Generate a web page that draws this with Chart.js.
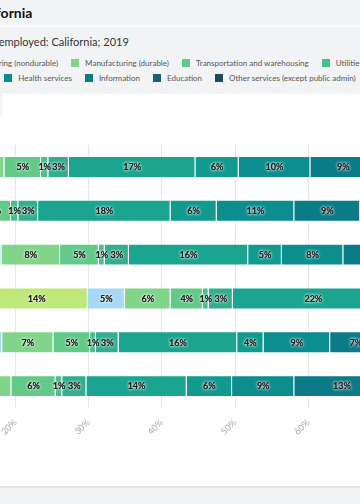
<!DOCTYPE html>
<html lang="en">
<head>
<meta charset="utf-8">
<title>Industry of employment: California</title>
<script src="https://cdn.jsdelivr.net/npm/chart.js@4.4.1/dist/chart.umd.min.js"></script>
<style>
  html, body { margin: 0; padding: 0; }
  body { width: 360px; height: 504px; overflow: hidden; background: #f2f3f5; font-family: Lato, "Noto Sans", sans-serif; position: relative; }
  #pagina { position: absolute; left: -400px; top: 0; width: 1160px; height: 504px; }
  .titulo { position: absolute; top: 0; left: 0; right: 0; height: 25px; line-height: 25px; border-bottom: 2px solid #fbfbfc; padding-left: 84px; font-size: 14px; font-weight: 700; color: #111; }
  .subtitulo { position: absolute; top: 34px; left: 0; right: 0; line-height: 16px; padding-left: 76px; font-size: 11px; color: #333; }
  #leyenda { position: absolute; top: 59px; left: 50%; transform: translateX(-50%); width: 1000px; display: flex; flex-wrap: wrap; justify-content: center; column-gap: 13px; row-gap: 7px; }
  #leyenda .item { display: inline-flex; align-items: center; height: 8px; font-size: 8px; line-height: 8px; color: #555; white-space: nowrap; }
  #leyenda .item i { display: inline-block; width: 8px; height: 8px; margin-right: 6px; }
  .tarjeta { position: absolute; top: 92px; left: 0; right: 0; height: 393px; background: #fff; border-top: 1px solid #e9ebee; border-bottom: 2px solid #e2e4e8; }
  .pestana { position: absolute; top: 0; left: 283px; width: 120px; height: 24px; background: #f4f5f7; }
  .marco { position: absolute; left: 69px; top: 0; width: 960px; height: 393px; }
</style>
</head>
<body>
<div id="pagina">
  <div class="titulo">Industry of employment by race and ethnicity: California</div>
  <div class="subtitulo">Industry share of the civilian population 16 years and over who are employed: California; 2019</div>
  <div id="leyenda"></div>
  <div class="tarjeta">
    <div class="pestana"></div>
    <div class="marco"><canvas id="barras"></canvas></div>
  </div>
</div>
<script>
const grupos = ['All workers', 'White', 'Black', 'Hispanic or Latino', 'Asian', 'Two or more races']

const industrias = [
    'Agriculture, forestry, fishing',
    'Mining',
    'Construction',
    'Manufacturing (nondurable)',
    'Manufacturing (durable)',
    'Transportation and warehousing',
    'Utilities',
    'Wholesale trade',
    'Retail trade',
    'Finance, insurance, and real estate',
    'Health services',
    'Information',
    'Education',
    'Other services (except public admin)'
]

const colores = [
    '#f3df74', '#dcec7c', '#bfe87a', '#a6d9f6', '#80d58a', '#62c989', '#4bbe8b',
    '#33ae8d', '#1ba590', '#129a8f', '#0c8d8e', '#0b7c87', '#175f72', '#22495e'
]

// percent of employed, one array per industry, in the order of grupos
const agricultura = [2.1, 1.6, 2.5, 15.5, 1.6, 1.9]
const mineria = [0.3, 0.2, 0.3, 0.4, 0.3, 0.2]
const construccion = [6.2, 4.8, 7.8, 14.0, 6.8, 6.3]
const noDuraderos = [4.0, 3.8, 7.5, 5.05, 9.5, 4.5]
const duraderos = [5.9, 4.6, 8.0, 6.25, 7.0, 6.55]
const transporte = [5.0, 4.4, 5.3, 4.4, 5.0, 6.05]
const serviciosPublicos = [1.0, 1.0, 0.8, 0.8, 0.8, 0.9]
const mayoreo = [2.8, 2.7, 3.3, 3.3, 3.1, 3.3]
const menudeo = [17.3, 18.1, 16.3, 22.0, 16.2, 13.7]
const finanzas = [5.9, 6.3, 4.6, 3.5, 3.6, 6.2]
const salud = [9.8, 10.6, 8.4, 7.8, 9.1, 8.5]
const informacion = [9.0, 9.0, 8.5, 2.0, 7.0, 13.0]
const educacion = [19.5, 21.0, 17.0, 9.0, 19.2, 18.4]
const otros = [11.2, 11.9, 9.7, 6.0, 10.8, 10.5]

const valores = [agricultura, mineria, construccion, noDuraderos, duraderos, transporte,
    serviciosPublicos, mayoreo, menudeo, finanzas, salud, informacion, educacion, otros]

const ticksX = [0, 10, 20, 30, 40, 50, 60, 70, 80, 90, 100]

// legend drawn as html from the datasets
const leyendaHTML = {
    id: 'leyendaHTML',
    afterUpdate(chart) {
        const cont = document.getElementById('leyenda')
        cont.innerHTML = ''
        chart.data.datasets.forEach(ds => {
            const item = document.createElement('span')
            item.className = 'item'
            const caja = document.createElement('i')
            caja.style.background = ds.backgroundColor
            item.append(caja, document.createTextNode(ds.label))
            cont.appendChild(item)
        })
    }
}

// percent labels inside each segment
const etiquetas = {
    id: 'etiquetas',
    afterDatasetsDraw(chart) {
        const ctx = chart.ctx
        ctx.save()
        ctx.font = 'bold 9px Lato'
        ctx.textAlign = 'center'
        ctx.textBaseline = 'middle'
        chart.data.datasets.forEach((ds, i) => {
            chart.getDatasetMeta(i).data.forEach((barra, j) => {
                const v = ds.data[j]
                if (v < 0.5) return
                const {x, y} = barra.getCenterPoint()
                const texto = Math.round(v) + '%'
                ctx.shadowColor = 'rgba(255,255,255,0.95)'
                ctx.shadowBlur = 3
                ctx.fillStyle = '#1e1e1e'
                ctx.fillText(texto, x, y + 0.5)
                ctx.fillText(texto, x, y + 0.5)
            })
        })
        ctx.restore()
    }
}

const grafica = new Chart(document.getElementById('barras'), {
    type: 'bar',
    data: {
        labels: grupos,
        datasets: industrias.map((nombre, i) => ({
            label: nombre,
            data: valores[i],
            backgroundColor: colores[i],
            borderColor: 'rgba(255,255,255,0.25)',
            borderWidth: 1,
            barPercentage: 0.5,
            categoryPercentage: 1
        }))
    },
    options: {
        indexAxis: 'y',
        responsive: true,
        maintainAspectRatio: false,
        animation: false,
        layout: { padding: { left: 10, right: 28, top: 52, bottom: 38 } },
        plugins: { legend: { display: false }, tooltip: { enabled: false } },
        scales: {
            x: {
                stacked: true,
                min: 0,
                max: 100,
                afterBuildTicks: s => { s.ticks = ticksX.map(v => ({ value: v })) },
                ticks: {
                    callback: v => v + '%',
                    maxRotation: 45,
                    minRotation: 45,
                    padding: 9,
                    color: '#a8a8a8',
                    font: { family: 'Lato', size: 9 }
                },
                grid: { color: '#e4e4e4', drawTicks: false },
                border: { display: false },
                afterFit: s => { s.height = 40; s.paddingLeft = 0; s.paddingRight = 0 }
            },
            y: {
                stacked: true,
                grid: { display: false },
                border: { display: false },
                ticks: { color: '#333', font: { family: 'Lato', size: 10 } },
                afterFit: s => { s.width = 190; s.paddingTop = 0; s.paddingBottom = 0 }
            }
        }
    },
    plugins: [leyendaHTML, etiquetas]
})
</script>
</body>
</html>
